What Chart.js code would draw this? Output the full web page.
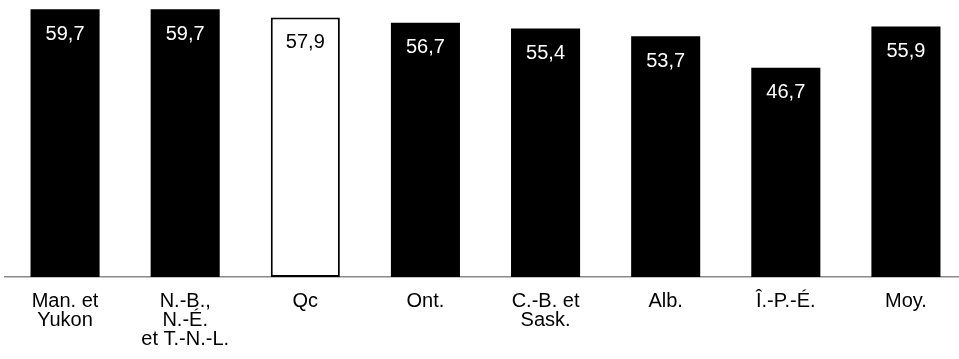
<!DOCTYPE html>
<html>
<head>
<meta charset="utf-8">
<script src="https://cdn.jsdelivr.net/npm/chart.js@4"></script>
<style>
  html, body { margin: 0; padding: 0; background: #fff; overflow: hidden; }
  #wrap { width: 966px; height: 359px; position: relative; }
</style>
</head>
<body>
<div id="wrap"><canvas id="c"></canvas></div>
<script>
// Provinces / groupes et taux (%)
const categories = [
  ['Man. et', 'Yukon'],
  ['N.-B.,', 'N.-É.', 'et T.-N.-L.'],
  'Qc',
  'Ont.',
  ['C.-B. et', 'Sask.'],
  'Alb.',
  'Î.-P.-É.',
  'Moy.'
];
const values = [59.7, 59.7, 57.9, 56.7, 55.4, 53.7, 46.7, 55.9];
const highlight = 'Qc';

const FONT = "'Liberation Sans', Arial, sans-serif";
const isHi = categories.map(c => c === highlight);

const valueLabels = {
  id: 'valueLabels',
  afterDatasetsDraw(chart) {
    const ctx = chart.ctx;
    const meta = chart.getDatasetMeta(0);
    ctx.save();
    ctx.font = '20px ' + FONT;
    ctx.textAlign = 'center';
    ctx.textBaseline = 'middle';
    meta.data.forEach((bar, i) => {
      ctx.fillStyle = isHi[i] ? '#000' : '#fff';
      const txt = values[i].toFixed(1).replace('.', ',');
      ctx.fillText(txt, bar.x, bar.y + 25);
    });
    ctx.restore();
  }
};

new Chart(document.getElementById('c'), {
  type: 'bar',
  data: {
    labels: categories,
    datasets: [{
      data: values,
      backgroundColor: isHi.map(h => h ? '#fff' : '#000'),
      borderColor: '#000',
      borderWidth: isHi.map(h => h ? 2 : 0),
      borderSkipped: false,
      categoryPercentage: 1,
      barPercentage: 0.575
    }]
  },
  options: {
    responsive: true,
    maintainAspectRatio: false,
    animation: false,
    layout: { padding: { top: 8, left: 5, right: 0, bottom: 0 } },
    plugins: { legend: { display: false }, tooltip: { enabled: false } },
    scales: {
      x: {
        grid: { display: false, drawTicks: false },
        border: { display: true, color: '#8a8a8a', width: 1.5 },
        ticks: {
          color: '#000',
          font: { family: FONT, size: 20, lineHeight: 0.95 },
          padding: 15,
          maxRotation: 0,
          autoSkip: false
        },
        afterFit(scale) { scale.height = 82; }
      },
      y: {
        display: false,
        min: 0,
        max: 60
      }
    }
  },
  plugins: [valueLabels]
});
</script>
</body>
</html>
